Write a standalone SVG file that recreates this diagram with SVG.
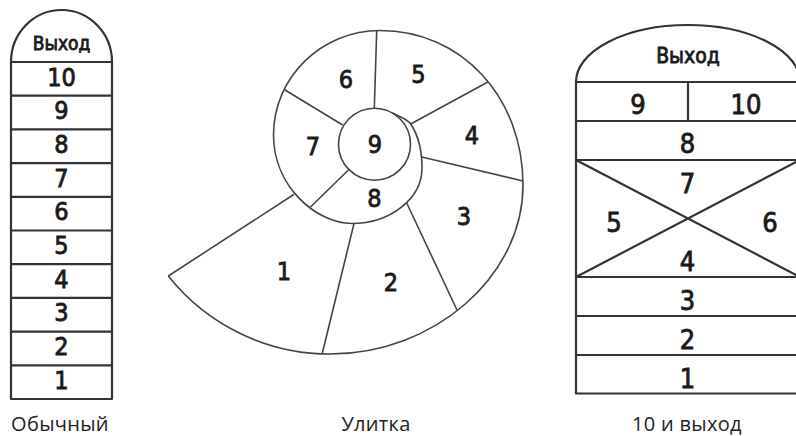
<svg xmlns="http://www.w3.org/2000/svg" width="796" height="436" viewBox="0 0 796 436">
<style>
  .bg { fill: #ffffff; }
  .box { fill: none; stroke: #333333; stroke-width: 2.2; stroke-linejoin: round; }
  .line { fill: none; stroke: #333333; stroke-width: 2.2; }
  .sp { fill: none; stroke: #444444; stroke-width: 1.6; stroke-linejoin: round; }
  .num { font-family: "DejaVu Sans Condensed", "DejaVu Sans", sans-serif; font-weight: normal; fill: #1a1a1a; stroke: #1a1a1a; stroke-width: 0.8; text-anchor: middle; }
  .cap { font-family: "Open Sans", "Liberation Sans", sans-serif; font-size: 20px; letter-spacing: 0.3px; fill: #222222; text-anchor: middle; }
</style>
<rect class="bg" x="0" y="0" width="796" height="436"/>

<!-- Обычный -->
<g id="ordinary">
  <path class="box" d="M11 399 V62 A50.5 52 0 0 1 112 62 V399 Z"/>
  <g id="ordinary-lines">
    <path class="line" d="M11 62 H112 M11 95.7 H112 M11 129.4 H112 M11 163.1 H112 M11 196.8 H112 M11 230.5 H112 M11 264.2 H112 M11 297.9 H112 M11 331.6 H112 M11 365.3 H112"/>
  </g>
  <g id="ordinary-exit"><text class="num" x="61.5" y="50" font-size="19">Выход</text></g>
  <g id="ordinary-10"><text class="num" x="61.5" y="85.5" font-size="25">10</text></g>
  <g id="ordinary-9"><text class="num" x="61.5" y="119.2" font-size="25">9</text></g>
  <g id="ordinary-8"><text class="num" x="61.5" y="152.9" font-size="25">8</text></g>
  <g id="ordinary-7"><text class="num" x="61.5" y="186.6" font-size="25">7</text></g>
  <g id="ordinary-6"><text class="num" x="61.5" y="220.3" font-size="25">6</text></g>
  <g id="ordinary-5"><text class="num" x="61.5" y="254" font-size="25">5</text></g>
  <g id="ordinary-4"><text class="num" x="61.5" y="287.7" font-size="25">4</text></g>
  <g id="ordinary-3"><text class="num" x="61.5" y="321.4" font-size="25">3</text></g>
  <g id="ordinary-2"><text class="num" x="61.5" y="355.1" font-size="25">2</text></g>
  <g id="ordinary-1"><text class="num" x="61.5" y="388.8" font-size="25">1</text></g>
  <text class="cap" x="60" y="431">Обычный</text>
</g>

<!-- Улитка -->
<g id="snail">
  <g id="snail-lines">
    <path class="sp" d="M168.3 276 A206.6 206.6 0 0 0 330 354 C434.2 354 523 276.3 523 185 C523 96.9 461.5 30.5 380 30.5 C321.4 30.5 273.5 77.5 273.5 135 C273.5 186 316 223.5 352 223.5 C390.5 223.5 422 198.5 422 168 C422 153 419.1 136.5 410.7 124 C406.8 118.2 398.6 116.5 392.5 113"/>
    <circle class="sp" cx="374.5" cy="144.2" r="36"/>
    <path class="sp" d="M168.3 276 L293.8 194.5 M322.3 353.3 L354 223.5 M457 310 L406.7 203 M523 181 L421.8 157 M488.3 81.7 L410.7 124 M376.7 30.7 L374.3 108.3 M285 90 L342.7 125 M310 207.5 L348.9 169.5"/>
  </g>
  <g id="snail-1"><text class="num" x="284" y="280" font-size="25">1</text></g>
  <g id="snail-2"><text class="num" x="391" y="290.5" font-size="25">2</text></g>
  <g id="snail-3"><text class="num" x="464" y="225" font-size="25">3</text></g>
  <g id="snail-4"><text class="num" x="472" y="144" font-size="25">4</text></g>
  <g id="snail-5"><text class="num" x="418.5" y="82.7" font-size="25">5</text></g>
  <g id="snail-6"><text class="num" x="346" y="88" font-size="25">6</text></g>
  <g id="snail-7"><text class="num" x="313" y="155" font-size="25">7</text></g>
  <g id="snail-8"><text class="num" x="374.5" y="206.5" font-size="25">8</text></g>
  <g id="snail-9"><text class="num" x="375" y="153" font-size="25">9</text></g>
  <text class="cap" x="376" y="431">Улитка</text>
</g>

<!-- 10 и выход -->
<g id="ten-exit">
  <path class="box" d="M576 393.5 V82 A112 57 0 0 1 800 82 V393.5 Z"/>
  <g id="ten-exit-lines">
    <path class="line" d="M576 82 H800 M576 121 H800 M576 160 H800 M576 277 H800 M576 316 H800 M576 355 H800 M688 82 V121"/>
    <path class="line" stroke-width="1.8" d="M576 160 L800 277 M800 160 L576 277"/>
  </g>
  <g id="ten-exit-exit"><text class="num" x="688" y="63" font-size="21">Выход</text></g>
  <g id="ten-exit-9"><text class="num" x="638" y="113.5" font-size="27">9</text></g>
  <g id="ten-exit-10"><text class="num" x="746" y="113.5" font-size="27">10</text></g>
  <g id="ten-exit-8"><text class="num" x="687.5" y="153" font-size="27">8</text></g>
  <g id="ten-exit-7"><text class="num" x="687.5" y="193" font-size="27">7</text></g>
  <g id="ten-exit-5"><text class="num" x="614" y="231.5" font-size="27">5</text></g>
  <g id="ten-exit-6"><text class="num" x="770" y="231.5" font-size="27">6</text></g>
  <g id="ten-exit-4"><text class="num" x="687.5" y="271" font-size="27">4</text></g>
  <g id="ten-exit-3"><text class="num" x="687.5" y="310" font-size="27">3</text></g>
  <g id="ten-exit-2"><text class="num" x="687.5" y="348.5" font-size="27">2</text></g>
  <g id="ten-exit-1"><text class="num" x="687.5" y="388" font-size="27">1</text></g>
  <text class="cap" x="687" y="431">10 и выход</text>
</g>
</svg>
